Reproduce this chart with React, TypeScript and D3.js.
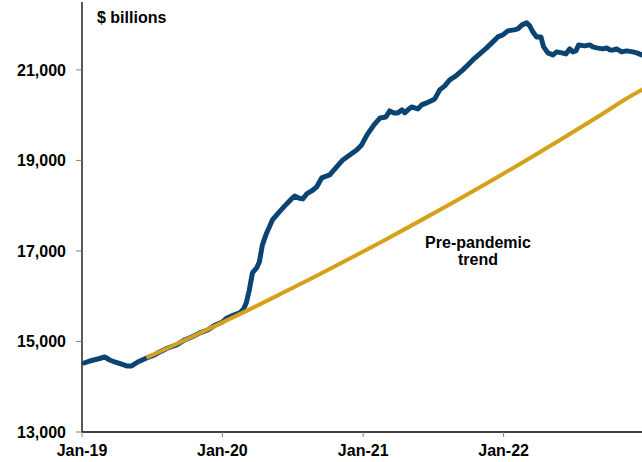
import React from "react";
import * as d3 from "d3";

// Weekly money stock, $ billions
const stockDates = [
  "2019-01-07", "2019-01-21", "2019-02-11", "2019-03-01", "2019-03-14", "2019-03-27",
  "2019-04-12", "2019-04-27", "2019-05-10", "2019-05-26", "2019-06-18", "2019-07-09",
  "2019-07-22", "2019-08-12", "2019-09-04", "2019-09-25", "2019-10-13", "2019-11-03",
  "2019-11-24", "2019-12-14", "2020-01-01", "2020-01-13", "2020-01-25", "2020-02-15",
  "2020-02-25", "2020-03-03", "2020-03-11", "2020-03-19", "2020-03-30", "2020-04-06",
  "2020-04-14", "2020-04-25", "2020-05-10", "2020-05-28", "2020-06-16", "2020-06-26",
  "2020-07-07", "2020-07-17", "2020-07-28", "2020-08-07", "2020-08-20", "2020-09-02",
  "2020-09-15", "2020-10-06", "2020-10-24", "2020-11-09", "2020-11-27", "2020-12-15",
  "2020-12-28", "2021-01-11", "2021-01-29", "2021-02-14", "2021-03-01", "2021-03-11",
  "2021-03-22", "2021-04-01", "2021-04-12", "2021-04-19", "2021-04-30", "2021-05-07",
  "2021-05-23", "2021-06-02", "2021-06-15", "2021-07-06", "2021-07-19", "2021-08-01",
  "2021-08-14", "2021-08-30", "2021-09-17", "2021-09-30", "2021-10-13", "2021-10-31",
  "2021-11-18", "2021-12-04", "2021-12-17", "2021-12-30", "2022-01-12", "2022-01-28",
  "2022-02-07", "2022-02-18", "2022-03-02", "2022-03-10", "2022-03-18", "2022-03-28",
  "2022-04-08", "2022-04-15", "2022-04-26", "2022-05-09", "2022-05-19", "2022-06-01",
  "2022-06-12", "2022-06-22", "2022-06-30", "2022-07-08", "2022-07-15", "2022-07-31",
  "2022-08-13", "2022-08-21", "2022-08-31", "2022-09-16", "2022-09-26", "2022-10-04",
  "2022-10-14", "2022-10-22", "2022-11-04", "2022-11-17", "2022-12-03", "2022-12-13",
  "2022-12-26",
];
const stockValues = [
  14525, 14569, 14613, 14657, 14591, 14547,
  14503, 14459, 14459, 14547, 14635, 14702,
  14768, 14856, 14923, 15033, 15099, 15188,
  15254, 15365, 15431, 15519, 15564, 15630,
  15718, 15851, 16138, 16514, 16624, 16757,
  17133, 17398, 17685, 17862, 18039, 18127,
  18215, 18171, 18149, 18260, 18326, 18414,
  18613, 18680, 18856, 19011, 19122, 19232,
  19343, 19564, 19785, 19939, 19961, 20094,
  20050, 20050, 20116, 20050, 20138, 20182,
  20138, 20227, 20271, 20359, 20558, 20646,
  20779, 20867, 21000, 21110, 21221, 21354,
  21486, 21619, 21729, 21773, 21862, 21884,
  21906, 21994, 22039, 21972, 21840, 21729,
  21729, 21508, 21376, 21331, 21398, 21376,
  21354, 21464, 21398, 21420, 21552, 21530,
  21552, 21508, 21486, 21464, 21486, 21442,
  21442, 21464, 21398, 21420, 21398, 21376,
  21331,
];

// Pre-pandemic trend, $ billions
const trendDates = [
  "2019-06-18", "2019-09-01", "2019-12-01", "2020-03-01", "2020-06-01", "2020-09-01",
  "2020-12-01", "2021-03-01", "2021-06-01", "2021-09-01", "2021-12-01", "2022-03-01",
  "2022-06-01", "2022-09-01", "2022-12-01", "2022-12-31",
];
const trendValues = [
  14640, 14933, 15296, 15665, 16053, 16448,
  16848, 17255, 17681, 18115, 18556, 19004,
  19473, 19953, 20439, 20580,
];

const yTicks = [13000, 15000, 17000, 19000, 21000];
const xTickDates = ["2019-01-01", "2020-01-01", "2021-01-01", "2022-01-01"];
const xTickLabels = ["Jan-19", "Jan-20", "Jan-21", "Jan-22"];

const W = 642;
const H = 462;
const FONT = "'Liberation Sans', Arial, sans-serif";

export default function App() {
  const parse = d3.utcParse("%Y-%m-%d");
  const x = d3
    .scaleUtc()
    .domain([parse("2019-01-01")!, parse("2023-01-01")!])
    .range([82, 644]);
  const y = d3.scaleLinear().domain([13000, 22500]).range([432, 2]);

  const stock = stockDates.map((d, i) => ({ date: parse(d)!, value: stockValues[i] }));
  const trend = trendDates.map((d, i) => ({ date: parse(d)!, value: trendValues[i] }));

  const stockLine = d3
    .line<{ date: Date; value: number }>()
    .x((d) => x(d.date))
    .y((d) => y(d.value))
    .curve(d3.curveLinear);
  const trendLine = d3
    .line<{ date: Date; value: number }>()
    .x((d) => x(d.date))
    .y((d) => y(d.value))
    .curve(d3.curveMonotoneX);

  return (
    <svg
      width={W}
      height={H}
      style={{ position: "absolute", left: 0, top: 0, background: "#fff" }}
      fontFamily={FONT}
    >
      {/* y axis */}
      <line x1={82} x2={82} y1={y(22500)} y2={432} stroke="#000" strokeWidth={1.3} />
      {yTicks.map((t) => (
        <g key={t}>
          <line x1={76} x2={82} y1={y(t)} y2={y(t)} stroke="#808080" strokeWidth={1} />
          <text
            x={66}
            y={y(t)}
            dy="0.36em"
            textAnchor="end"
            fontSize={16}
            fontWeight="bold"
            fill="#000"
          >
            {d3.format(",")(t)}
          </text>
        </g>
      ))}

      {/* x axis */}
      <line x1={82} x2={W} y1={432} y2={432} stroke="#000" strokeWidth={1.3} />
      {xTickDates.map((d, i) => {
        const px = x(parse(d)!);
        return (
          <g key={d}>
            <line x1={px} x2={px} y1={432} y2={437} stroke="#808080" strokeWidth={1} />
            <text
              x={px}
              y={456}
              textAnchor="middle"
              fontSize={16}
              fontWeight="bold"
              fill="#000"
            >
              {xTickLabels[i]}
            </text>
          </g>
        );
      })}

      <text x={97} y={23} fontSize={16} fontWeight="bold" fill="#000">
        $ billions
      </text>

      {/* series */}
      <path
        d={stockLine(stock) ?? ""}
        fill="none"
        stroke="#0b4473"
        strokeWidth={5}
        strokeLinejoin="round"
        strokeLinecap="round"
      />
      <path
        d={trendLine(trend) ?? ""}
        fill="none"
        stroke="#d6a11a"
        strokeWidth={4}
      />

      <text
        x={478}
        textAnchor="middle"
        fontSize={16}
        fontWeight="bold"
        fill="#000"
      >
        <tspan x={478} y={248}>Pre-pandemic</tspan>
        <tspan x={478} y={265}>trend</tspan>
      </text>
    </svg>
  );
}
